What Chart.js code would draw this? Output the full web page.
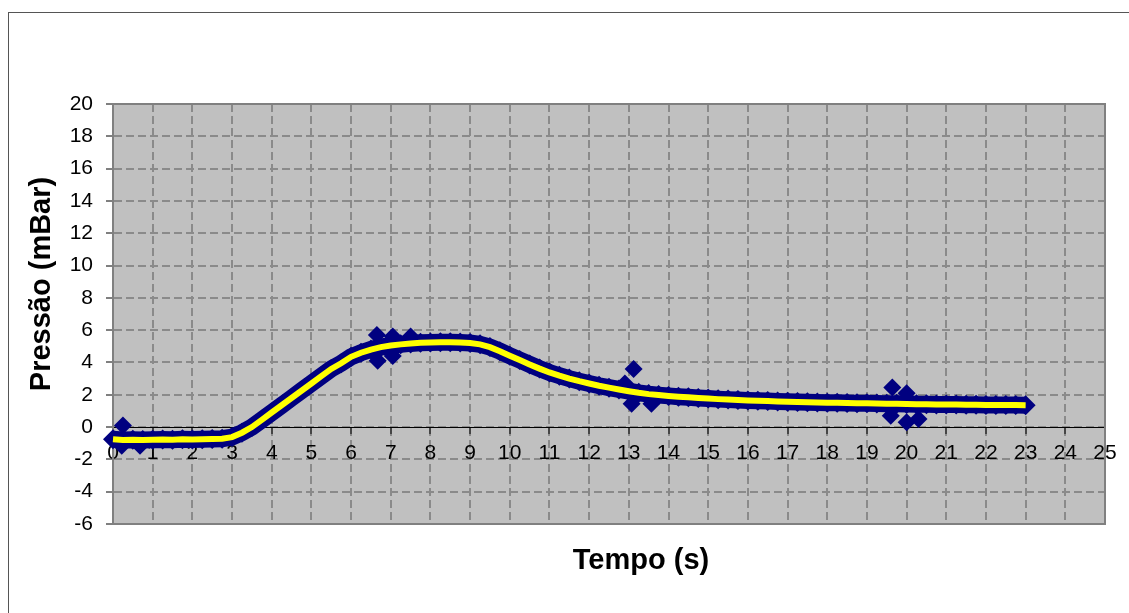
<!DOCTYPE html>
<html>
<head>
<meta charset="utf-8">
<script src="https://cdn.jsdelivr.net/npm/chart.js@4/dist/chart.umd.min.js"></script>
<style>
  body { margin: 0; background: #fff; }
  #box { width: 1129px; height: 613px; }
</style>
</head>
<body>
<div id="box"><canvas id="grafico"></canvas></div>
<script>
// tempo (s) e pressao (mBar)
var tempo = [
  0, 0.25, 0.5, 0.75, 1, 1.25, 1.5, 1.75, 2, 2.25, 2.5, 2.75,
  3, 3.25, 3.5, 3.75, 4, 4.25, 4.5, 4.75, 5, 5.25, 5.5, 5.75,
  6, 6.25, 6.5, 6.75, 7, 7.25, 7.5, 7.75, 8, 8.25, 8.5, 8.75,
  9, 9.25, 9.5, 9.75, 10, 10.25, 10.5, 10.75, 11, 11.25, 11.5, 11.75,
  12, 12.25, 12.5, 12.75, 13, 13.25, 13.5, 13.75, 14, 14.25, 14.5, 14.75,
  15, 15.25, 15.5, 15.75, 16, 16.25, 16.5, 16.75, 17, 17.25, 17.5, 17.75,
  18, 18.25, 18.5, 18.75, 19, 19.25, 19.5, 19.75, 20, 20.25, 20.5, 20.75,
  21, 21.25, 21.5, 21.75, 22, 22.25, 22.5, 22.75,
  23
];
var pressao = [
  -0.75, -0.80, -0.78, -0.80, -0.78, -0.77, -0.78, -0.76, -0.77, -0.75, -0.74, -0.72,
  -0.62, -0.35, 0.00, 0.45, 0.90, 1.35, 1.80, 2.25, 2.70, 3.15, 3.60, 3.95,
  4.35, 4.60, 4.80, 4.95, 5.05, 5.12, 5.18, 5.22, 5.24, 5.25, 5.25, 5.23,
  5.20, 5.12, 4.95, 4.70, 4.42, 4.15, 3.88, 3.62, 3.38, 3.18, 3.00, 2.84,
  2.70, 2.56, 2.44, 2.33, 2.22, 2.12, 2.04, 1.98, 1.93, 1.88, 1.84, 1.80,
  1.77, 1.73, 1.70, 1.67, 1.65, 1.63, 1.61, 1.59, 1.57, 1.55, 1.54, 1.52,
  1.51, 1.50, 1.49, 1.48, 1.47, 1.46, 1.45, 1.44, 1.43, 1.42, 1.41, 1.40,
  1.40, 1.39, 1.38, 1.38, 1.37, 1.37, 1.36, 1.36,
  1.35
];
// pontos soltos (picos) fora da faixa
var tempoPicos = [0.25, 0.22, 0.68, 6.65, 6.67, 7.05, 7.05, 7.5, 12.9, 13.12, 13.07, 13.57, 19.64, 19.6, 20.0, 20.0, 20.3];
var pressaoPicos = [0.1, -1.15, -1.15, 5.7, 4.1, 5.6, 4.4, 5.6, 2.7, 3.6, 1.45, 1.45, 2.45, 0.7, 2.1, 0.3, 0.5];

var tituloX = 'Tempo (s)';
var tituloY = 'Pressão (mBar)';

var pontos = tempo.map(function (t, i) { return { x: t, y: pressao[i] }; });
var picos = tempoPicos.map(function (t, i) { return { x: t, y: pressaoPicos[i] }; });

var fonte = 'Arial, "Liberation Sans", sans-serif';

var fundo = {
  id: 'fundo',
  beforeDraw: function (chart) {
    var ctx = chart.ctx, a = chart.chartArea;
    ctx.save();
    ctx.strokeStyle = '#555';
    ctx.lineWidth = 1;
    ctx.strokeRect(8.5, 12.5, 1400, 900);
    ctx.fillStyle = '#c0c0c0';
    ctx.fillRect(a.left, a.top, a.right - a.left, a.bottom - a.top);
    ctx.restore();
  },
  beforeDatasetsDraw: function (chart) {
    var ctx = chart.ctx, a = chart.chartArea;
    ctx.save();
    ctx.strokeStyle = '#808080';
    ctx.lineWidth = 2;
    ctx.strokeRect(a.left, a.top, a.right - a.left, a.bottom - a.top);
    ctx.restore();
  },
  afterDraw: function (chart) {
    var ctx = chart.ctx;
    ctx.save();
    ctx.fillStyle = '#000';
    ctx.font = 'bold 29px ' + fonte;
    ctx.textAlign = 'center';
    ctx.textBaseline = 'alphabetic';
    ctx.fillText(tituloX, 641, 569);
    ctx.translate(50, 284);
    ctx.rotate(-Math.PI / 2);
    ctx.fillText(tituloY, 0, 0);
    ctx.restore();
  }
};

new Chart(document.getElementById('grafico'), {
  type: 'scatter',
  data: {
    datasets: [
      {
        label: 'linha',
        data: pontos,
        showLine: true,
        borderColor: '#ffff00',
        borderWidth: 6,
        pointRadius: 0,
        order: 0,
        clip: false
      },
      {
        label: 'pressao',
        data: pontos,
        showLine: true,
        borderColor: '#000080',
        borderWidth: 17,
        pointStyle: 'rectRot',
        pointRadius: 10,
        pointBackgroundColor: '#000080',
        pointBorderColor: '#000080',
        pointBorderWidth: 0,
        order: 1,
        clip: false
      },
      {
        label: 'picos',
        data: picos,
        showLine: false,
        pointStyle: 'rectRot',
        pointRadius: 9,
        pointBackgroundColor: '#000080',
        pointBorderColor: '#000080',
        pointBorderWidth: 0,
        order: 2,
        clip: false
      }
    ]
  },
  options: {
    responsive: true,
    maintainAspectRatio: false,
    animation: false,
    layout: { padding: { left: 0, top: 104, right: 24, bottom: 89 } },
    plugins: { legend: { display: false }, tooltip: { enabled: false } },
    scales: {
      x: {
        type: 'linear',
        position: { y: 0 },
        min: 0, max: 25,
        ticks: { stepSize: 1, color: '#000', font: { family: fonte, size: 21 }, padding: 8, maxRotation: 0, autoSkip: false },
        grid: { color: '#8a8a8a', lineWidth: 2, tickColor: '#000', tickLength: 6, tickWidth: 1 },
        border: { color: '#000', width: 1, dash: [8, 4] }
      },
      y: {
        min: -6, max: 20,
        ticks: { stepSize: 2, color: '#000', font: { family: fonte, size: 21 }, padding: 13 },
        grid: { color: '#8a8a8a', lineWidth: 2, tickColor: '#000', tickLength: 7, tickWidth: 1 },
        border: { color: '#808080', width: 2, dash: [8, 4] },
        afterFit: function (s) { s.width = 113; }
      }
    }
  },
  plugins: [fundo]
});
</script>
</body>
</html>
